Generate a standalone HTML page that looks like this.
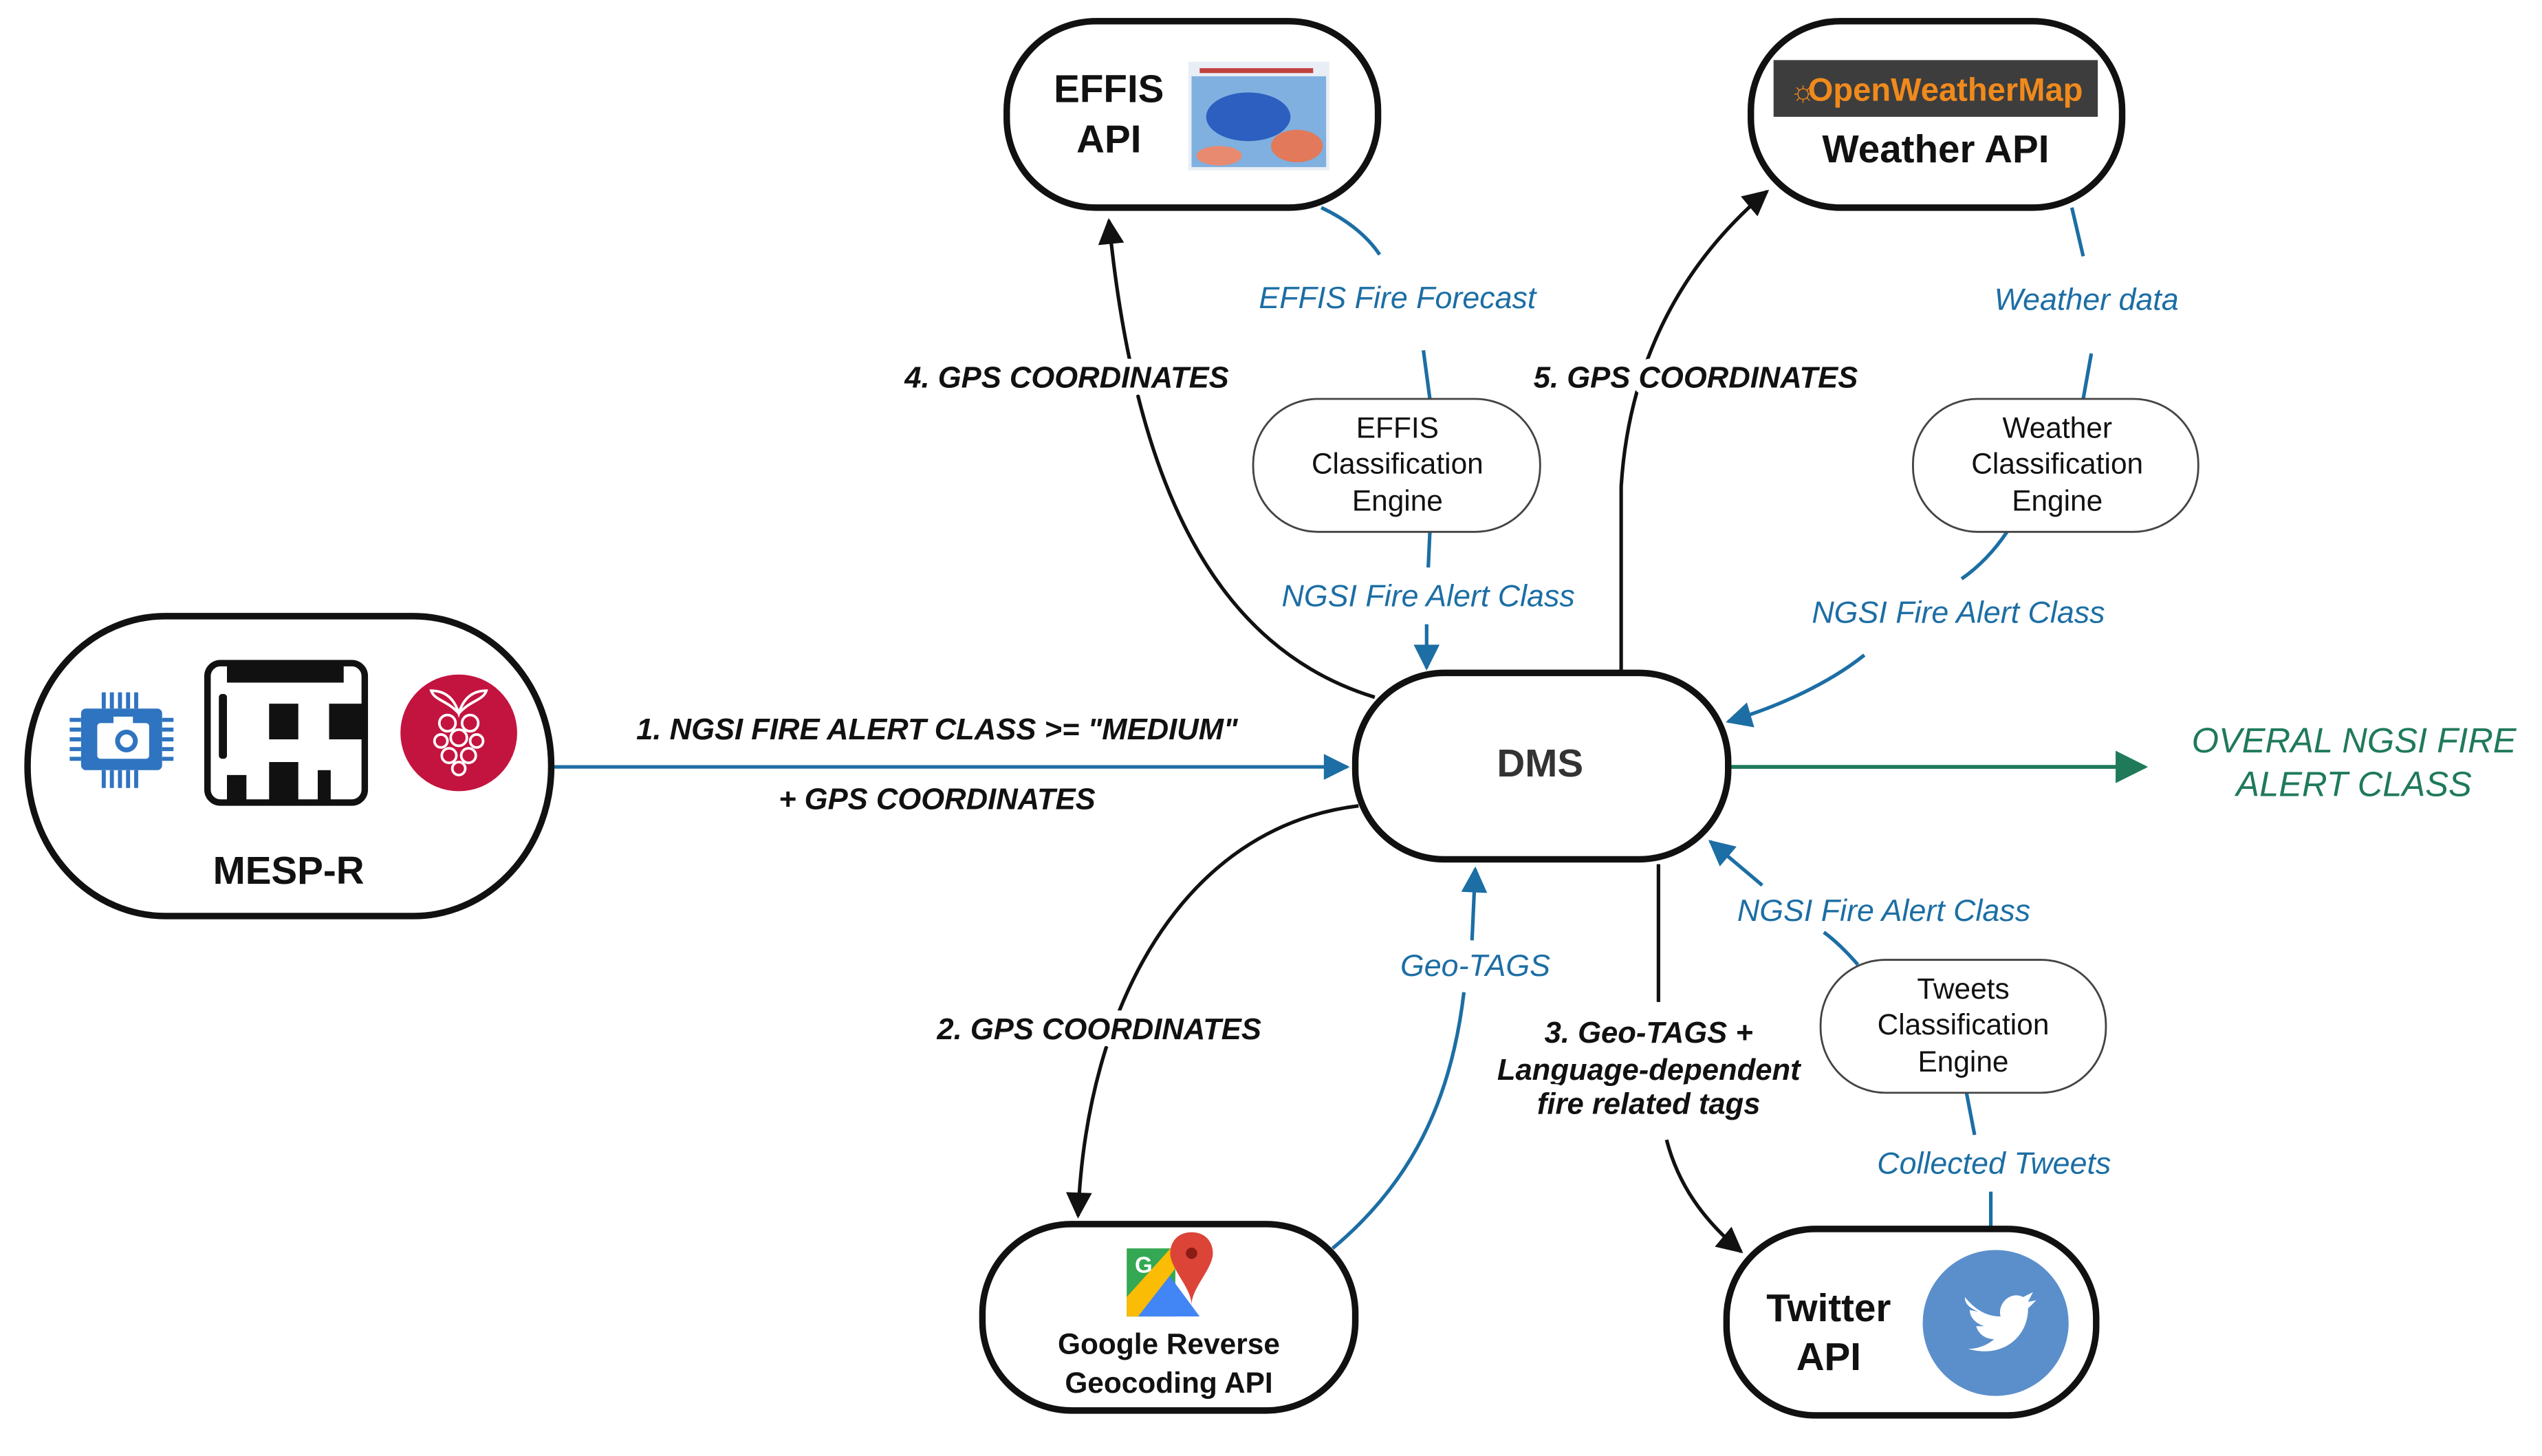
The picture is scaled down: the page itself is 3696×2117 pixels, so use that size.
<!DOCTYPE html>
<html><head><meta charset="utf-8"><style>
html,body{margin:0;padding:0;background:#fff;}
svg{display:block;}
text{font-family:"Liberation Sans",sans-serif;}
.bl{font-size:24px;font-weight:bold;fill:#111;text-anchor:middle;}
.ce{font-size:18px;fill:#111;text-anchor:middle;}
.bi{font-size:18.5px;font-weight:bold;font-style:italic;fill:#111;text-anchor:middle;stroke:#fff;stroke-width:10px;paint-order:stroke;stroke-linejoin:round;}
.blu{font-size:19px;font-style:italic;fill:#1c6ea4;text-anchor:middle;}
.box{fill:#fff;stroke:#111;stroke-width:4;}
.eng{fill:#fff;stroke:#444;stroke-width:1.2;}
.k{fill:none;stroke:#111;stroke-width:2.2;}
.b{fill:none;stroke:#1c6ea4;stroke-width:2.2;}
</style></head><body>
<svg width="3696" height="2117" viewBox="0 0 1568 898" xmlns="http://www.w3.org/2000/svg">
<defs>
<marker id="akL" viewBox="0 0 10 10" refX="9" refY="5" markerWidth="20" markerHeight="16" orient="auto" markerUnits="userSpaceOnUse"><path d="M0,0L10,5L0,10z" fill="#111"/></marker>
<marker id="abL" viewBox="0 0 10 10" refX="9" refY="5" markerWidth="20" markerHeight="16" orient="auto" markerUnits="userSpaceOnUse"><path d="M0,0L10,5L0,10z" fill="#1c6ea4"/></marker>
<marker id="agL" viewBox="0 0 10 10" refX="9" refY="5" markerWidth="28" markerHeight="20" orient="auto" markerUnits="userSpaceOnUse"><path d="M0,0L10,5L0,10z" fill="#1f7a5a"/></marker>
</defs>

<path class="k" d="M848,430 C750,400 700,300 684,136" marker-end="url(#akL)"/>
<path class="k" d="M1000,415 L1000,300 C1005,220 1040,160 1090,118" marker-end="url(#akL)"/>
<path class="k" d="M838,497 C730,510 670,620 665,750" marker-end="url(#akL)"/>
<path class="k" d="M1023,533 L1023,618"/>
<path class="k" d="M1028,703 C1035,730 1050,752 1074,772" marker-end="url(#akL)"/>
<path class="b" d="M340,473 L831,473" marker-end="url(#abL)"/>
<path d="M1066,473 L1323,473" fill="none" stroke="#1f7a5a" stroke-width="2.4" marker-end="url(#agL)"/>
<path class="b" d="M815,128 C830,135 843,145 851,157"/>
<path class="b" d="M878,216 L882,246"/>
<path class="b" d="M882,328 L881,350"/>
<path class="b" d="M880,385 L880,412" marker-end="url(#abL)"/>
<path class="b" d="M1278,128 L1285,158"/>
<path class="b" d="M1290,218 L1285,246"/>
<path class="b" d="M1238,328 C1230,340 1220,350 1210,357"/>
<path class="b" d="M1150,404 C1130,420 1100,435 1066,445" marker-end="url(#abL)"/>
<path class="b" d="M1228,758 L1228,735"/>
<path class="b" d="M1218,700 L1213,674"/>
<path class="b" d="M1146,595 C1140,588 1132,580 1125,575"/>
<path class="b" d="M1087,546 L1055,519" marker-end="url(#abL)"/>
<path class="b" d="M822,770 C870,730 895,680 903,612"/>
<path class="b" d="M908,580 L910,536" marker-end="url(#abL)"/>

<rect class="box" x="17" y="380" width="323" height="185" rx="85" ry="92"/>
<rect class="box" x="836" y="415" width="230" height="115" rx="55" ry="55"/>
<rect class="box" x="621" y="13" width="229" height="115" rx="55" ry="55"/>
<rect class="box" x="1080" y="13" width="229" height="115" rx="55" ry="55"/>
<rect class="box" x="606" y="755" width="230" height="115" rx="55" ry="55"/>
<rect class="box" x="1065" y="758" width="228" height="115" rx="55" ry="55"/>
<rect class="eng" x="773" y="246" width="177" height="82" rx="40"/>
<rect class="eng" x="1180" y="246" width="176" height="82" rx="40"/>
<rect class="eng" x="1123" y="592" width="176" height="82" rx="40"/>

<g fill="#2f74c0">
<rect x="50" y="437" width="50" height="38" rx="3"/>
<g stroke="#2f74c0" stroke-width="2.5">
<line x1="64" y1="427" x2="64" y2="437"/><line x1="69" y1="427" x2="69" y2="437"/><line x1="74" y1="427" x2="74" y2="437"/><line x1="79" y1="427" x2="79" y2="437"/><line x1="84" y1="427" x2="84" y2="437"/>
<line x1="64" y1="475" x2="64" y2="486"/><line x1="69" y1="475" x2="69" y2="486"/><line x1="74" y1="475" x2="74" y2="486"/><line x1="79" y1="475" x2="79" y2="486"/><line x1="84" y1="475" x2="84" y2="486"/>
<line x1="43" y1="444" x2="50" y2="444"/><line x1="43" y1="450" x2="50" y2="450"/><line x1="43" y1="456" x2="50" y2="456"/><line x1="43" y1="462" x2="50" y2="462"/><line x1="43" y1="468" x2="50" y2="468"/>
<line x1="100" y1="444" x2="107" y2="444"/><line x1="100" y1="450" x2="107" y2="450"/><line x1="100" y1="456" x2="107" y2="456"/><line x1="100" y1="462" x2="107" y2="462"/><line x1="100" y1="468" x2="107" y2="468"/>
</g>
</g>
<rect x="60" y="446" width="32" height="22" rx="2" fill="#fff"/>
<circle cx="78" cy="457" r="7" fill="#2f74c0"/><circle cx="78" cy="457" r="4" fill="#fff"/>
<rect x="70" y="442" width="12" height="5" fill="#fff"/>
<rect x="128" y="409" width="97" height="86" rx="8" fill="#fff" stroke="#111" stroke-width="4"/>
<rect x="140" y="409" width="72" height="12" fill="#111"/>
<rect x="166" y="434" width="18" height="22" fill="#111"/>
<rect x="203" y="434" width="22" height="22" fill="#111"/>
<rect x="166" y="470" width="18" height="25" fill="#111"/>
<rect x="140" y="478" width="12" height="17" fill="#111"/>
<rect x="196" y="475" width="8" height="20" fill="#111"/>
<rect x="135" y="428" width="5" height="40" rx="2" fill="#111"/>
<circle cx="283" cy="452" r="36" fill="#c3143f"/>
<g fill="none" stroke="#fff" stroke-width="1.6">
<circle cx="276" cy="446" r="5"/><circle cx="290" cy="446" r="5"/><circle cx="283" cy="455" r="5"/><circle cx="272" cy="457" r="4"/><circle cx="294" cy="457" r="4"/><circle cx="277" cy="466" r="4.5"/><circle cx="289" cy="466" r="4.5"/><circle cx="283" cy="474" r="4"/>
<path d="M283,440 C276,432 268,432 266,426 C274,426 280,430 283,440 C286,430 292,426 300,426 C298,432 290,432 283,440z"/>
</g>
<text class="bl" x="178" y="545">MESP-R</text>
<text class="bl" x="950" y="479" style="fill:#333">DMS</text>

<text class="bl" x="684" y="63">EFFIS</text>
<text class="bl" x="684" y="94">API</text>
<rect x="733" y="38" width="87" height="67" fill="#e9eef6"/>
<rect x="735" y="47" width="83" height="56" fill="#7fb0e0"/>
<ellipse cx="770" cy="72" rx="26" ry="15" fill="#2c5fbf"/>
<ellipse cx="800" cy="90" rx="16" ry="10" fill="#e2795a"/>
<ellipse cx="752" cy="96" rx="14" ry="6" fill="#e88a70"/>
<rect x="740" y="42" width="70" height="3" fill="#c04040"/>

<rect x="1094" y="37" width="200" height="35" fill="#3d3d3d"/>
<text x="1104" y="62" style="font-size:18px;fill:#f08a1c;font-weight:bold">☼</text>
<text x="1200" y="62" style="font-size:20px;fill:#f08a1c;font-weight:bold;text-anchor:middle">OpenWeatherMap</text>
<text class="bl" x="1194" y="100">Weather API</text>

<path d="M695,770 L725,770 L725,812 L695,812z" fill="#34a853"/>
<path d="M695,812 L720,785 L740,812z" fill="#4285f4"/>
<path d="M695,800 L722,770 L730,776 L702,812 L695,812z" fill="#fbbc05"/>
<text x="700" y="785" style="font-size:14px;font-weight:bold;fill:#fff">G</text>
<path d="M735,760 C725,760 721,768 722,775 C724,785 735,795 735,805 C735,795 746,785 748,775 C749,768 745,760 735,760z" fill="#db4437"/>
<circle cx="735" cy="773" r="3.5" fill="#8a1c14"/>
<text class="bl" x="721" y="835" style="font-size:18px">Google Reverse</text>
<text class="bl" x="721" y="859" style="font-size:18px">Geocoding API</text>

<text class="bl" x="1128" y="815">Twitter</text>
<text class="bl" x="1128" y="845">API</text>
<circle cx="1231" cy="816" r="45" fill="#5b8fcc"/>
<path d="M1212,800 C1220,810 1228,812 1234,812 C1232,804 1240,796 1248,800 L1254,797 L1251,803 L1256,802 L1251,807 C1251,825 1235,838 1214,832 C1222,832 1228,828 1230,826 C1224,826 1220,822 1219,818 L1224,818 C1218,816 1215,812 1215,808 L1220,809 C1214,806 1212,804 1212,800z" fill="#fff"/>

<text class="ce" x="862" y="270">EFFIS</text>
<text class="ce" x="862" y="292">Classification</text>
<text class="ce" x="862" y="315">Engine</text>
<text class="ce" x="1269" y="270">Weather</text>
<text class="ce" x="1269" y="292">Classification</text>
<text class="ce" x="1269" y="315">Engine</text>
<text class="ce" x="1211" y="616">Tweets</text>
<text class="ce" x="1211" y="638">Classification</text>
<text class="ce" x="1211" y="661">Engine</text>

<text class="bi" x="578" y="456">1. NGSI FIRE ALERT CLASS &gt;= "MEDIUM"</text>
<text class="bi" x="578" y="499">+ GPS COORDINATES</text>
<text class="bi" x="658" y="239">4. GPS COORDINATES</text>
<text class="bi" x="1046" y="239">5. GPS COORDINATES</text>
<text class="bi" x="678" y="641">2. GPS COORDINATES</text>
<text class="bi" x="1017" y="643">3. Geo-TAGS +</text>
<text class="bi" x="1017" y="666">Language-dependent</text>
<text class="bi" x="1017" y="687">fire related tags</text>
<text class="blu" x="862" y="190">EFFIS Fire Forecast</text>
<text class="blu" x="881" y="374">NGSI Fire Alert Class</text>
<text class="blu" x="1287" y="191">Weather data</text>
<text class="blu" x="1208" y="384">NGSI Fire Alert Class</text>
<text class="blu" x="1162" y="568">NGSI Fire Alert Class</text>
<text class="blu" x="1230" y="724">Collected Tweets</text>
<text class="blu" x="910" y="602">Geo-TAGS</text>
<text x="1452" y="464" style="font-size:21.5px;font-style:italic;fill:#1f7a5a;text-anchor:middle">OVERAL NGSI FIRE</text>
<text x="1452" y="491" style="font-size:21.5px;font-style:italic;fill:#1f7a5a;text-anchor:middle">ALERT CLASS</text>
</svg>
</body></html>
